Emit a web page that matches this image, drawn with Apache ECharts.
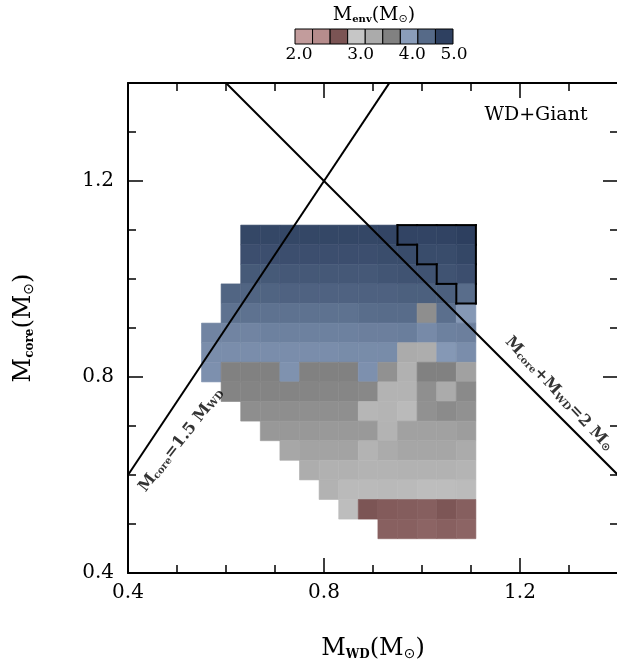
<!DOCTYPE html>
<html><head><meta charset="utf-8">
<script src="https://cdn.jsdelivr.net/npm/echarts@6/dist/echarts.min.js"></script>
<style>html,body{margin:0;padding:0;background:#fff}#c{width:617px;height:667px}</style>
</head><body><div id="c"></div><script>
// ---------------- data ----------------
const wdMass = [0.57,0.61,0.65,0.69,0.73,0.77,0.81,0.85,0.89,0.93,0.97,1.01,1.05,1.09];
const coreMass = [1.09,1.05,1.01,0.97,0.93,0.89,0.85,0.81,0.77,0.73,0.69,0.65,0.61,0.57,0.53,0.49];
const envMass = [
  [null,null,4.78,4.78,4.78,4.78,4.78,4.78,4.78,4.79,4.80,4.80,4.81,4.85],
  [null,null,4.72,4.72,4.72,4.72,4.72,4.72,4.72,4.73,4.74,4.74,4.74,4.78],
  [null,null,4.63,4.63,4.64,4.64,4.64,4.64,4.64,4.67,4.68,4.68,4.68,4.72],
  [null,4.54,4.54,4.55,4.56,4.56,4.56,4.56,4.57,4.57,4.58,4.58,4.58,4.48],
  [null,4.45,4.45,4.45,4.45,4.45,4.45,4.45,4.48,4.49,4.49,3.73,4.47,4.20],
  [4.33,4.33,4.33,4.35,4.35,4.35,4.35,4.35,4.36,4.36,4.37,4.29,4.35,4.36],
  [4.27,4.27,4.27,4.27,4.27,4.27,4.27,4.28,4.28,4.28,3.50,3.47,4.20,4.27],
  [4.25,3.83,3.83,3.83,4.24,3.84,3.84,3.84,4.25,3.71,3.43,3.84,3.84,3.58],
  [null,3.81,3.81,3.81,3.81,3.80,3.79,3.79,3.78,3.40,3.40,3.72,3.50,3.76],
  [null,null,3.73,3.73,3.73,3.72,3.72,3.72,3.36,3.39,3.32,3.71,3.75,3.71],
  [null,null,null,3.65,3.65,3.65,3.64,3.64,3.64,3.40,3.58,3.58,3.58,3.61],
  [null,null,null,null,3.53,3.56,3.56,3.56,3.40,3.50,3.54,3.54,3.54,3.50],
  [null,null,null,null,null,3.48,3.43,3.42,3.40,3.40,3.41,3.41,3.41,3.39],
  [null,null,null,null,null,null,3.41,3.32,3.32,3.33,3.32,3.28,3.28,3.30],
  [null,null,null,null,null,null,null,3.28,2.83,2.79,2.78,2.77,2.82,2.77],
  [null,null,null,null,null,null,null,null,null,2.76,2.76,2.74,2.76,2.74]
];
// cells outlined in black: [column index, row index]
const flaggedCells = [[10,0],[11,0],[12,0],[13,0],[11,1],[12,1],[13,1],[12,2],[13,2],[13,3]];
const cellSize = 0.04;
const axisRange = [0.4, 1.4];
const majorTicks = [0.4, 0.8, 1.2];
const coreToWdRatio = 1.5;   // M_core = 1.5 M_WD
const totalMass = 2.0;       // M_core + M_WD = 2
const colorbarRange = [2.0, 5.0];
const colorbarTicks = [2.0, 3.0, 4.0, 5.0];
const colorbarBins = 9;

// ---------------- colour scale ----------------
const colorStops = [
  [2.0,'#c8a4a4'],[2.1667,'#c29c9c'],[2.5,'#b68c8c'],[2.8333,'#7b5454'],[3.0,'#714b4b'],
  [3.0,'#cccccc'],[3.1667,'#c6c6c6'],[3.5,'#ababab'],[3.8333,'#818181'],[4.0,'#777777'],
  [4.0,'#96a8c4'],[4.1667,'#8a9dba'],[4.5,'#566a88'],[4.8333,'#2e4060'],[5.0,'#223452']
];
function hexRgb(h){return [1,3,5].map(i=>parseInt(h.substr(i,2),16));}
function colorOf(v){
  v = Math.max(colorStops[0][0], Math.min(colorStops[colorStops.length-1][0], v));
  for (let i=0;i<colorStops.length-1;i++){
    const a=colorStops[i], b=colorStops[i+1];
    if (b[0]===a[0]) continue;
    if (v>=a[0] && v<=b[0]){
      const t=(v-a[0])/(b[0]-a[0]); const ca=hexRgb(a[1]), cb=hexRgb(b[1]);
      const c=ca.map((x,k)=>Math.round(x+(cb[k]-x)*t));
      return 'rgb('+c.join(',')+')';
    }
  }
  return '#000';
}

// ---------------- derived ----------------
const cellData = [];
envMass.forEach((row,r)=>row.forEach((v,c)=>{ if(v!=null) cellData.push([wdMass[c], coreMass[r], v]); }));
const isFlagged=(c,r)=>flaggedCells.some(([fc,fr])=>fc===c&&fr===r);
const h = cellSize/2;
const edges = [];
flaggedCells.forEach(([c,r])=>{
  const x0=wdMass[c]-h, x1=wdMass[c]+h, yT=coreMass[r]+h, yB=coreMass[r]-h;
  if(!isFlagged(c,r-1)) edges.push([x0,yT,x1,yT]);
  if(!isFlagged(c,r+1)) edges.push([x0,yB,x1,yB]);
  if(!isFlagged(c-1,r)) edges.push([x0,yB,x0,yT]);
  if(!isFlagged(c+1,r)) edges.push([x1,yB,x1,yT]);
});
const line1 = axisRange.map(x=>[x, coreToWdRatio*x]);
const line2 = axisRange.map(x=>[x, totalMass-x]);
const binW = (colorbarRange[1]-colorbarRange[0])/colorbarBins;
const cbData = Array.from({length:colorbarBins},(_,k)=>[colorbarRange[0]+k*binW, colorbarRange[0]+(k+1)*binW]);

const FONT='DejaVu Serif';
const isMajor=v=>majorTicks.some(t=>Math.abs(t-v)<1e-6);
function nameRich(size){
  return {
    m:{fontFamily:FONT,fontSize:size,color:'#000',lineHeight:size+4,verticalAlign:'bottom'},
    s:{fontFamily:FONT,fontSize:Math.round(size*0.52),fontWeight:'bold',color:'#000',lineHeight:Math.round(size*0.42),verticalAlign:'bottom'},
    o:{fontFamily:'DejaVu Sans',fontSize:Math.round(size*0.6),color:'#000',lineHeight:Math.round(size*0.55),verticalAlign:'bottom'}
  };
}
function labelRich(size){
  return {
    m:{fontFamily:FONT,fontSize:size,fontWeight:'bold',color:'#000',lineHeight:size+3,verticalAlign:'bottom'},
    s:{fontFamily:FONT,fontSize:Math.round(size*0.6),fontWeight:'bold',color:'#000',lineHeight:Math.round(size*0.5),verticalAlign:'bottom'},
    o:{fontFamily:'DejaVu Sans',fontSize:Math.round(size*0.7),fontWeight:'bold',color:'#000',lineHeight:Math.round(size*0.6),verticalAlign:'bottom'}
  };
}
function mkAxis(dim, pos, interval, tickLen, withLine, withLabel, extra){
  const ax = {
    type:'value', gridIndex:0, position:pos, min:axisRange[0], max:axisRange[1], interval:interval,
    axisLine:{show:withLine, onZero:false, lineStyle:{color:'#000',width:2}},
    axisTick:{show:true, inside:true, length:tickLen, lineStyle:{color:'#000',width:1.5}},
    axisLabel:{show:withLabel, formatter:v=>isMajor(v)?v.toFixed(1):'', fontFamily:FONT, fontSize:20, color:'#000', margin:dim==='x'?10:14},
    splitLine:{show:false}
  };
  return Object.assign(ax, extra||{});
}

const chart = echarts.init(document.getElementById('c'), null, {renderer:'canvas'});
chart.setOption({
  animation:false,
  backgroundColor:'#fff',
  grid:[
    {left:128, top:83, width:490, height:490, containLabel:false, outerBoundsMode:'none'},
    {left:295, top:29, width:158, height:15, containLabel:false, outerBoundsMode:'none'}
  ],
  xAxis:[
    mkAxis('x','bottom',0.4,15,true,true,{
      name:'{m|M}{s|WD}{m|(M}{o|⊙}{m|)}', nameLocation:'middle', nameGap:60,
      nameTextStyle:{rich:nameRich(24)}
    }),
    mkAxis('x','bottom',0.1,8,false,false),
    mkAxis('x','top',0.4,15,true,false),
    mkAxis('x','top',0.1,8,false,false),
    {type:'value', gridIndex:1, position:'bottom', min:colorbarRange[0], max:colorbarRange[1], interval:1,
      axisLine:{show:false}, axisTick:{show:false}, splitLine:{show:false},
      axisLabel:{margin:2, formatter:v=>{
          const pad={2:8,3:26,4:24,5:2}[Math.round(v)]||0;
          return '{t'+pad+'|'+v.toFixed(1)+'}';
        },
        rich:{t8:{padding:[0,0,0,8],fontFamily:FONT,fontSize:17,color:'#000'},
              t26:{padding:[0,0,0,26],fontFamily:FONT,fontSize:17,color:'#000'},
              t24:{padding:[0,0,0,24],fontFamily:FONT,fontSize:17,color:'#000'},
              t2:{padding:[0,0,0,2],fontFamily:FONT,fontSize:17,color:'#000'}},
        fontFamily:FONT, fontSize:17, color:'#000'}}
  ],
  yAxis:[
    mkAxis('y','left',0.4,15,true,true,{
      name:'{m|M}{s|core}{m|(M}{o|⊙}{m|)}', nameLocation:'middle', nameGap:92,
      nameTextStyle:{rich:nameRich(24)}
    }),
    mkAxis('y','left',0.1,8,false,false),
    mkAxis('y','right',0.4,15,true,false),
    mkAxis('y','right',0.1,8,false,false),
    {type:'value', gridIndex:1, min:0, max:1, show:false}
  ],
  graphic:[
    {type:'text', x:536, y:115, style:{text:'WD+Giant', font:'19px "DejaVu Serif"', fill:'#000', align:'center', verticalAlign:'middle', textAlign:'center', textVerticalAlign:'middle'}},
    {type:'text', x:374, y:13, style:{text:'{m|M}{s|env}{m|(M}{o|⊙}{m|)}', rich:nameRich(19), fill:'#000', align:'center', verticalAlign:'middle', textAlign:'center', textVerticalAlign:'middle'}}
  ],
  series:[
    {type:'custom', xAxisIndex:0, yAxisIndex:0, data:cellData, clip:true, z:1,
      renderItem:(p,api)=>{
        const x=api.value(0), y=api.value(1), v=api.value(2);
        const a=api.coord([x-h,y+h]), b=api.coord([x+h,y-h]);
        const col=colorOf(v);
        return {type:'rect', shape:{x:a[0],y:a[1],width:b[0]-a[0],height:b[1]-a[1]}, style:{fill:col, stroke:col, lineWidth:0.6}};
      }},
    {type:'custom', xAxisIndex:0, yAxisIndex:0, data:edges, z:3,
      renderItem:(p,api)=>{
        const a=api.coord([api.value(0),api.value(1)]), b=api.coord([api.value(2),api.value(3)]);
        return {type:'line', shape:{x1:a[0],y1:a[1],x2:b[0],y2:b[1]}, style:{stroke:'#000', lineWidth:2, lineCap:'square'}};
      }},
    {type:'line', xAxisIndex:0, yAxisIndex:0, data:line1, symbol:'none', clip:true, z:4, lineStyle:{color:'#000',width:2}},
    {type:'line', xAxisIndex:0, yAxisIndex:0, data:line2, symbol:'none', clip:true, z:4, lineStyle:{color:'#000',width:2}},
    {type:'scatter', xAxisIndex:0, yAxisIndex:0, symbolSize:1, itemStyle:{color:'rgba(0,0,0,0)'}, z:5,
      data:[{value:[0.506,0.673], label:{show:true, position:'inside', rotate:52,
        formatter:'{m|M}{s|core}{m|=1.5 M}{s|WD}', rich:labelRich(16)}},
        {value:[1.2816,0.7673], label:{show:true, position:'inside', rotate:-47,
        formatter:'{m|M}{s|core}{m|+M}{s|WD}{m|=2 M}{o|⊙}', rich:labelRich(16)}}]},
    {type:'custom', xAxisIndex:4, yAxisIndex:4, data:cbData, z:2,
      renderItem:(p,api)=>{
        const lo=api.value(0), hi=api.value(1);
        const a=api.coord([lo,1]), b=api.coord([hi,0]);
        return {type:'rect', shape:{x:a[0],y:a[1],width:b[0]-a[0],height:b[1]-a[1]}, style:{fill:colorOf((lo+hi)/2), stroke:'#000', lineWidth:1}};
      }}
  ]
});
</script></body></html>
